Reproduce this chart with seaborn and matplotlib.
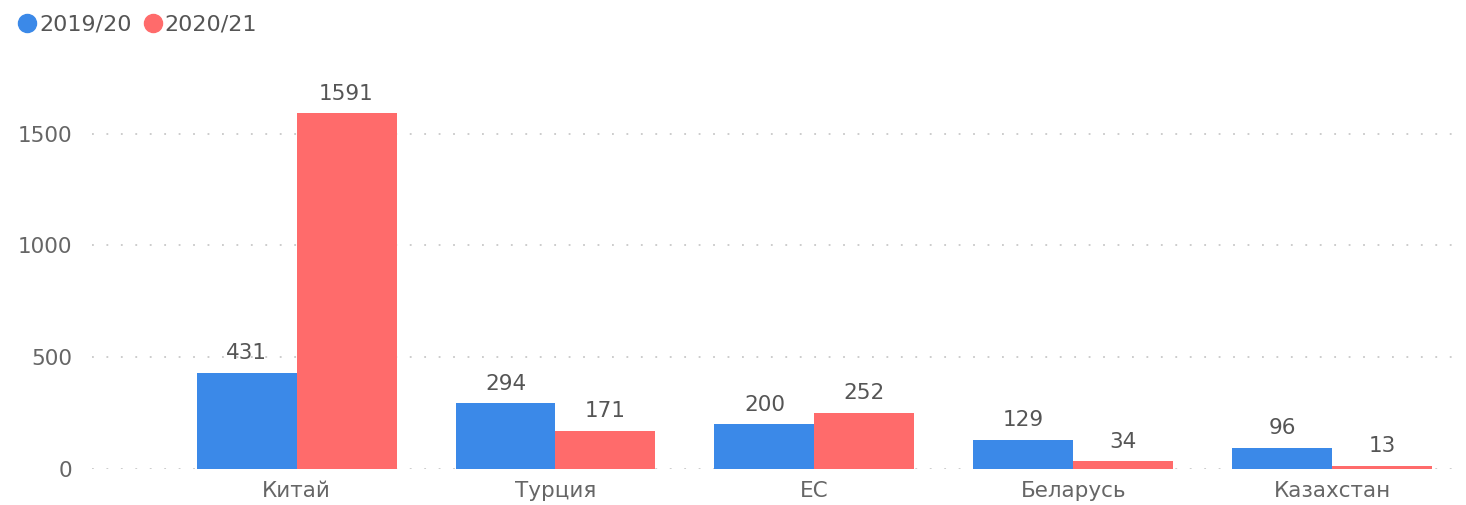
import matplotlib
matplotlib.use("Agg")
import matplotlib.pyplot as plt
import seaborn as sns
import pandas as pd
from matplotlib.lines import Line2D

categories = ["Китай", "Турция", "ЕС", "Беларусь", "Казахстан"]
series_names = ["2019/20", "2020/21"]
values_2019 = [431, 294, 200, 129, 96]
values_2020 = [1591, 171, 252, 34, 13]
yticks = [0, 500, 1000, 1500]

colors = ["#3B89E8", "#FF6B6B"]

df = pd.DataFrame({
    "cat": categories * 2,
    "season": [series_names[0]] * len(categories) + [series_names[1]] * len(categories),
    "value": values_2019 + values_2020,
})

sns.set_theme(style="white")
plt.rcParams["font.family"] = ["DejaVu Sans"]

fig = plt.figure(figsize=(14.66, 5.05), dpi=100)
ax = fig.add_axes([0.0628, 0.0713, 0.9342, 0.7525])

sns.barplot(data=df, x="cat", y="value", hue="season", order=categories,
            hue_order=series_names, palette=colors, width=0.772, gap=0,
            saturation=1, ax=ax, legend=False, errorbar=None)

for cont in ax.containers:
    for bar in cont:
        h = bar.get_height()
        ax.annotate(f"{int(round(h))}", (bar.get_x() + bar.get_width() / 2, h),
                    xytext=(0, 7), textcoords="offset points", ha="center", va="bottom",
                    fontsize=15.5, color="#555555")
        bar.set_edgecolor("none")

ax.set_xlim(-0.79, 4.5)
ax.set_ylim(0, 1700)
ax.set_yticks(yticks)
ax.set_yticklabels([str(t) for t in yticks])
ax.yaxis.grid(True, linestyle=(0, (1, 7)), color="#C8C8C8", linewidth=1.3)
ax.set_axisbelow(True)
for s in ax.spines.values():
    s.set_visible(False)
ax.tick_params(axis="both", length=0, labelsize=15.5, labelcolor="#666666")
ax.tick_params(axis="y", pad=14)
ax.tick_params(axis="x", pad=9)
ax.set_xlabel("")
ax.set_ylabel("")

handles = [Line2D([0], [0], marker="o", linestyle="", markersize=13,
                  markerfacecolor=c, markeredgecolor=c) for c in colors]
fig.legend(handles, series_names, loc="upper left", bbox_to_anchor=(-0.003, 1.011),
           frameon=False, ncol=2, handletextpad=0.05, columnspacing=0.45,
           fontsize=16, labelcolor="#555555", handlelength=1.0)

fig.savefig("out.png", dpi=100)
